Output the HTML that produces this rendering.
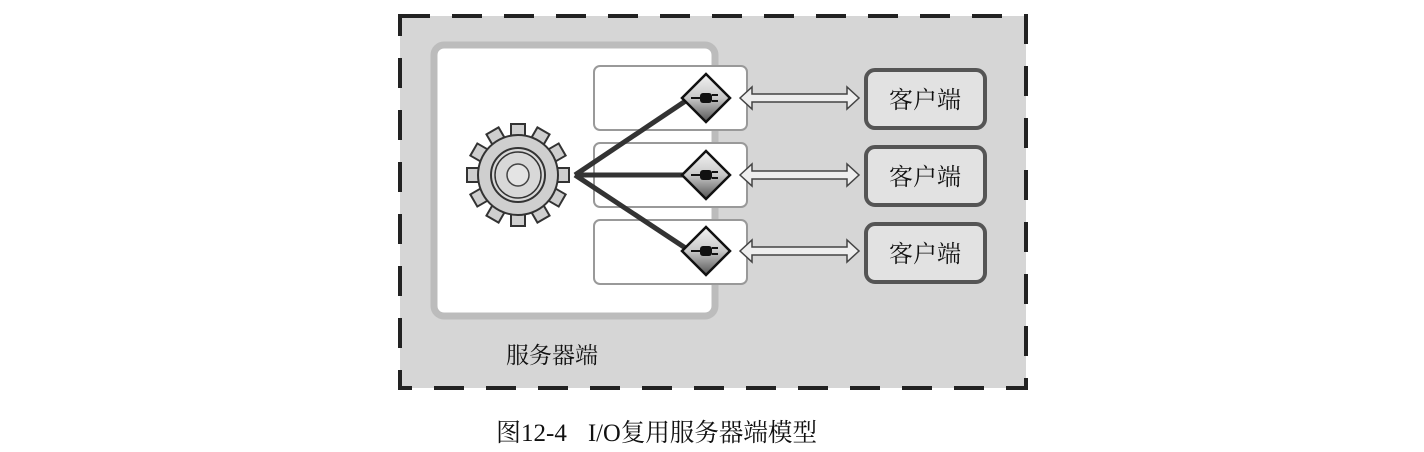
<!DOCTYPE html>
<html><head><meta charset="utf-8"><style>
html,body{margin:0;padding:0;background:#fff;width:1424px;height:452px;overflow:hidden}
</style></head><body>
<svg width="1424" height="452" viewBox="0 0 1424 452" xmlns="http://www.w3.org/2000/svg">
<defs>
<linearGradient id="dg" x1="0" y1="0" x2="0" y2="1"><stop offset="0" stop-color="#f4f4f4"/><stop offset="0.5" stop-color="#c8c8c8"/><stop offset="1" stop-color="#555"/></linearGradient>
</defs>
<rect x="400" y="16" width="626" height="372" fill="#d6d6d6" stroke="#222" stroke-width="4" stroke-dasharray="30,22"/>
<rect x="434" y="45" width="281" height="271" rx="10" fill="#fff" stroke="#bcbcbc" stroke-width="7"/>
<g fill="#fff" stroke="#999" stroke-width="2">
<rect x="594" y="66" width="153" height="64" rx="6"/>
<rect x="594" y="143" width="153" height="64" rx="6"/>
<rect x="594" y="220" width="153" height="64" rx="6"/>
</g>
<g stroke="#333" stroke-width="5" fill="none">
<line x1="575" y1="175" x2="690" y2="98"/>
<line x1="575" y1="175" x2="690" y2="175"/>
<line x1="575" y1="175" x2="690" y2="251"/>
</g>
<g transform="translate(518,175)">
<g fill="#cfcfcf" stroke="#333" stroke-width="2">
<rect x="-7" y="-51" width="14" height="20" transform="rotate(0)"/>
<rect x="-7" y="-51" width="14" height="20" transform="rotate(30)"/>
<rect x="-7" y="-51" width="14" height="20" transform="rotate(60)"/>
<rect x="-7" y="-51" width="14" height="20" transform="rotate(90)"/>
<rect x="-7" y="-51" width="14" height="20" transform="rotate(120)"/>
<rect x="-7" y="-51" width="14" height="20" transform="rotate(150)"/>
<rect x="-7" y="-51" width="14" height="20" transform="rotate(180)"/>
<rect x="-7" y="-51" width="14" height="20" transform="rotate(210)"/>
<rect x="-7" y="-51" width="14" height="20" transform="rotate(240)"/>
<rect x="-7" y="-51" width="14" height="20" transform="rotate(270)"/>
<rect x="-7" y="-51" width="14" height="20" transform="rotate(300)"/>
<rect x="-7" y="-51" width="14" height="20" transform="rotate(330)"/>
</g>
<circle r="40" fill="#cfcfcf" stroke="#333" stroke-width="2"/>
<circle r="38" fill="#cfcfcf"/>
<circle r="27" fill="#d8d8d8" stroke="#333" stroke-width="2"/>
<circle r="23" fill="none" stroke="#333" stroke-width="1.5"/>
<circle r="11" fill="#e4e4e4" stroke="#444" stroke-width="1.5"/>
</g>
<g stroke="#111" stroke-width="2.5" fill="url(#dg)">
<path d="M706 74 L730 98 L706 122 L682 98 Z"/>
<path d="M706 151 L730 175 L706 199 L682 175 Z"/>
<path d="M706 227 L730 251 L706 275 L682 251 Z"/>
</g>
<g fill="#111">
<rect x="700" y="93" width="12" height="10" rx="3"/><rect x="712" y="94" width="6" height="2"/><rect x="712" y="100" width="6" height="2"/><rect x="691" y="97" width="10" height="2"/>
<rect x="700" y="170" width="12" height="10" rx="3"/><rect x="712" y="171" width="6" height="2"/><rect x="712" y="177" width="6" height="2"/><rect x="691" y="174" width="10" height="2"/>
<rect x="700" y="246" width="12" height="10" rx="3"/><rect x="712" y="247" width="6" height="2"/><rect x="712" y="253" width="6" height="2"/><rect x="691" y="250" width="10" height="2"/>
</g>
<g fill="#eee" stroke="#444" stroke-width="1.5">
<path d="M740 98 L752 87 L752 94 L847 94 L847 87 L859 98 L847 109 L847 102 L752 102 L752 109 Z"/>
<path d="M740 175 L752 164 L752 171 L847 171 L847 164 L859 175 L847 186 L847 179 L752 179 L752 186 Z"/>
<path d="M740 251 L752 240 L752 247 L847 247 L847 240 L859 251 L847 262 L847 255 L752 255 L752 262 Z"/>
</g>
<g fill="#e2e2e2" stroke="#555" stroke-width="4">
<rect x="866" y="70" width="119" height="58" rx="9"/>
<rect x="866" y="147" width="119" height="58" rx="9"/>
<rect x="866" y="224" width="119" height="58" rx="9"/>
</g>
<g font-family="'Liberation Serif','Noto Serif CJK SC',serif" font-size="24" fill="#111" text-anchor="middle">
<text x="925" y="108">客户端</text>
<text x="925" y="185">客户端</text>
<text x="925" y="262">客户端</text>
<text x="552" y="363" font-size="23">服务器端</text>
</g>
<g font-family="'Liberation Serif','Noto Serif CJK SC',serif" font-size="25" fill="#111">
<text x="496" y="441">图12-4</text>
<text x="588" y="441" textLength="229" lengthAdjust="spacingAndGlyphs">I/O复用服务器端模型</text>
</g>
</svg>
</body></html>
